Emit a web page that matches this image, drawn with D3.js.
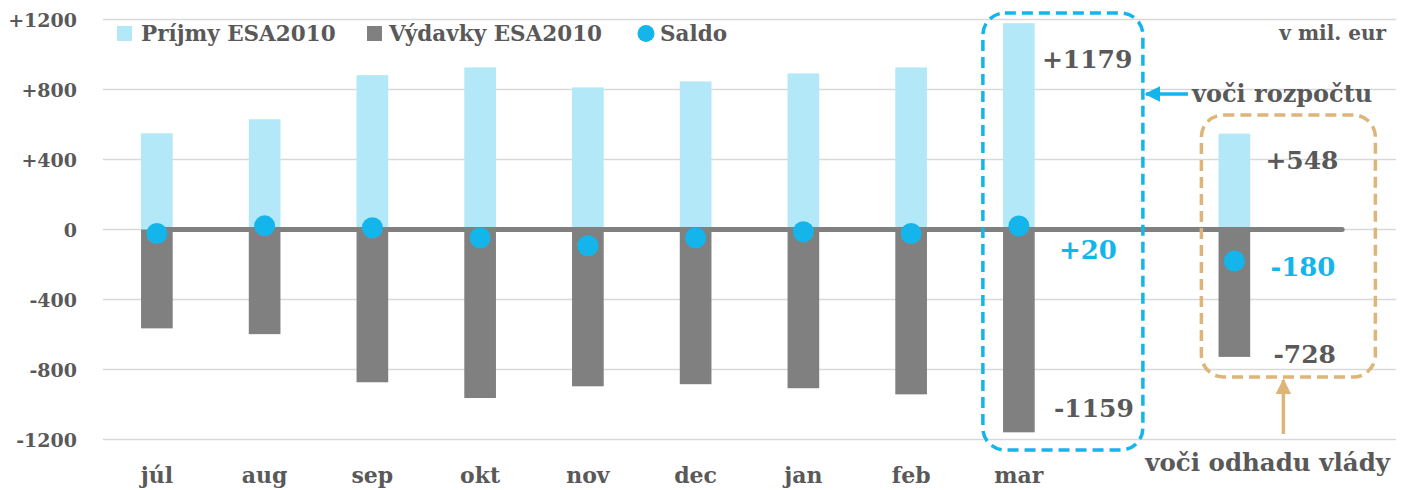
<!DOCTYPE html>
<html>
<head>
<meta charset="utf-8">
<script src="https://cdn.jsdelivr.net/npm/d3@7"></script>
<style>
  body { margin: 0; background: #fff; }
  svg text { font-family: "DejaVu Serif", serif; font-weight: bold; fill: #595959; }
</style>
</head>
<body>
<div id="app"></div>
<script>
// monthly values, v mil. eur
const months = ["júl", "aug", "sep", "okt", "nov", "dec", "jan", "feb", "mar"];
const prijmy = [550, 630, 882, 926, 812, 846, 892, 926, 1179];
const vydavky = [-565, -598, -873, -963, -896, -884, -907, -942, -1159];
const saldo = [-23, 21, 10, -48, -93, -48, -13, -23, 20];

// government estimate (last column)
const odhadPrijmy = 548;
const odhadVydavky = -728;
const odhadSaldo = -180;

const yTicks = [-1200, -800, -400, 0, 400, 800, 1200];

const width = 1408, height = 490;
const lightBlue = "#b3e8f9", darkGray = "#808080", blue = "#13b5ea", tan = "#dfb478";

const slots = [...months, "_gap", "odhad", "_end"];

const x = d3.scaleBand().domain(slots).range([103, 1396]);
const y = d3.scaleLinear().domain([-1200, 1200]).range([439.5, 19.5]);
const barW = x.bandwidth() * 0.294;
const cx = k => x(k) + x.bandwidth() / 2;

const svg = d3.select("#app").append("svg")
    .attr("width", width)
    .attr("height", height);

// gridlines
svg.append("g")
    .selectAll("line")
    .data(yTicks)
    .join("line")
    .attr("x1", 103).attr("x2", 1396)
    .attr("y1", d => y(d)).attr("y2", d => y(d))
    .attr("stroke", "#d9d9d9")
    .attr("stroke-width", 1.5);

// y labels
const fmt = d => d > 0 ? "+" + d : String(d);
svg.append("g")
    .selectAll("text")
    .data(yTicks)
    .join("text")
    .attr("x", 77)
    .attr("y", d => y(d) + 7)
    .attr("text-anchor", "end")
    .attr("font-size", 19)
    .text(fmt);

// x labels
svg.append("g")
    .selectAll("text")
    .data(months)
    .join("text")
    .attr("x", d => cx(d))
    .attr("y", 483)
    .attr("text-anchor", "middle")
    .attr("font-size", 22)
    .text(d => d);

const rows = months.map((m, i) => ({key: m, p: prijmy[i], v: vydavky[i], s: saldo[i]}));
rows.push({key: "odhad", p: odhadPrijmy, v: odhadVydavky, s: odhadSaldo});

// bars
svg.append("g")
    .selectAll("rect")
    .data(rows)
    .join("rect")
    .attr("x", d => cx(d.key) - barW / 2)
    .attr("width", barW)
    .attr("y", d => y(d.p))
    .attr("height", d => y(0) - y(d.p))
    .attr("fill", lightBlue);

svg.append("g")
    .selectAll("rect")
    .data(rows)
    .join("rect")
    .attr("x", d => cx(d.key) - barW / 2)
    .attr("width", barW)
    .attr("y", y(0))
    .attr("height", d => y(d.v) - y(0))
    .attr("fill", darkGray);

// zero line
svg.append("line")
    .attr("x1", cx(months[0])).attr("x2", cx("_end"))
    .attr("y1", y(0)).attr("y2", y(0))
    .attr("stroke", darkGray)
    .attr("stroke-width", 5)
    .attr("stroke-linecap", "round");

// saldo dots
svg.append("g")
    .selectAll("circle")
    .data(rows)
    .join("circle")
    .attr("cx", d => cx(d.key))
    .attr("cy", d => y(d.s))
    .attr("r", 10.5)
    .attr("fill", blue);

// legend
const legend = svg.append("g");
legend.append("rect").attr("x", 117).attr("y", 26).attr("width", 15).attr("height", 15).attr("fill", lightBlue);
legend.append("text").attr("x", 141).attr("y", 41).attr("font-size", 21.5).text("Príjmy ESA2010");
legend.append("rect").attr("x", 367).attr("y", 26).attr("width", 15).attr("height", 15).attr("fill", darkGray);
legend.append("text").attr("x", 389).attr("y", 41).attr("font-size", 21.5).text("Výdavky ESA2010");
legend.append("circle").attr("cx", 646).attr("cy", 33.5).attr("r", 8.5).attr("fill", blue);
legend.append("text").attr("x", 660).attr("y", 41).attr("font-size", 21.5).text("Saldo");

svg.append("text")
    .attr("x", 1386).attr("y", 40)
    .attr("text-anchor", "end")
    .attr("font-size", 20)
    .text("v mil. eur");

// arrow markers
const defs = svg.append("defs");
[["ahBlue", blue], ["ahTan", tan]].forEach(([id, c]) => {
  defs.append("marker")
      .attr("id", id)
      .attr("viewBox", "0 0 10 10")
      .attr("refX", 9).attr("refY", 5)
      .attr("markerWidth", 4.5).attr("markerHeight", 4.5)
      .attr("markerUnits", "strokeWidth")
      .attr("orient", "auto")
      .append("path")
      .attr("d", "M0,0L10,5L0,10z")
      .attr("fill", c);
});

// "voči rozpočtu" box around March
const mx = cx("mar");
svg.append("rect")
    .attr("x", mx - 36).attr("y", 13)
    .attr("width", 160).attr("height", 437)
    .attr("rx", 22)
    .attr("fill", "none")
    .attr("stroke", blue)
    .attr("stroke-width", 3.5)
    .attr("stroke-dasharray", "11,6");

svg.append("text").attr("x", mx + 23).attr("y", y(1179) + 45)
    .attr("font-size", 25).text("+1179");
svg.append("text").attr("x", mx + 35).attr("y", y(-1159) - 15)
    .attr("font-size", 25).text("-1159");
svg.append("text").attr("x", mx + 40).attr("y", y(20) + 33)
    .attr("font-size", 26).style("fill", blue).text("+20");

svg.append("line")
    .attr("x1", 1188).attr("x2", 1146)
    .attr("y1", 94).attr("y2", 94)
    .attr("stroke", blue).attr("stroke-width", 3.5)
    .attr("marker-end", "url(#ahBlue)");
svg.append("text").attr("x", 1192).attr("y", 102)
    .attr("font-size", 24).text("voči rozpočtu");

// "voči odhadu vlády" box around estimate
const ox = cx("odhad");
svg.append("rect")
    .attr("x", ox - 33).attr("y", 115)
    .attr("width", 174).attr("height", 262)
    .attr("rx", 22)
    .attr("fill", "none")
    .attr("stroke", tan)
    .attr("stroke-width", 3.5)
    .attr("stroke-dasharray", "11,6");

svg.append("text").attr("x", ox + 31).attr("y", y(odhadPrijmy) + 35)
    .attr("font-size", 25).text("+548");
svg.append("text").attr("x", ox + 36).attr("y", y(odhadSaldo) + 15)
    .attr("font-size", 26).style("fill", blue).text("-180");
svg.append("text").attr("x", ox + 39).attr("y", y(odhadVydavky) + 6)
    .attr("font-size", 25).text("-728");

svg.append("line")
    .attr("x1", ox + 49).attr("x2", ox + 49)
    .attr("y1", 434).attr("y2", 380)
    .attr("stroke", tan).attr("stroke-width", 3.5)
    .attr("marker-end", "url(#ahTan)");
svg.append("text").attr("x", 1390).attr("y", 471)
    .attr("text-anchor", "end")
    .attr("font-size", 24.5).text("voči odhadu vlády");
</script>
</body>
</html>
